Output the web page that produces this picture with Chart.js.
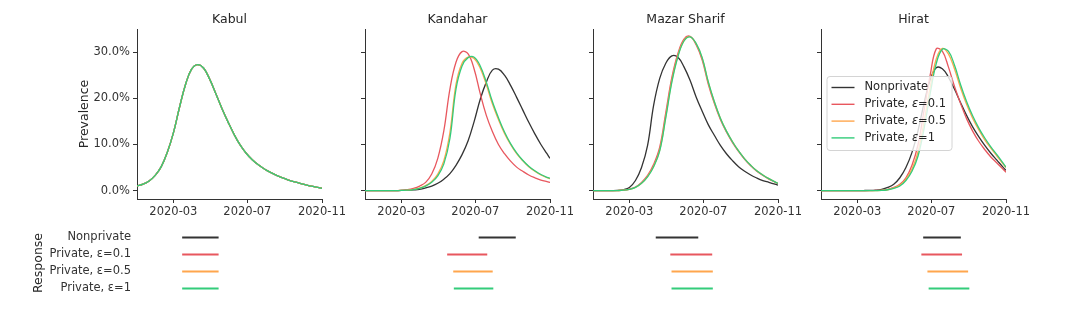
<!DOCTYPE html>
<html lang="en">
<head>
<meta charset="UTF-8">
<title>Prevalence and response by city</title>
<script src="https://cdn.jsdelivr.net/npm/chart.js"></script>
<style>
  body { margin: 0; background: #fff; }
  #wrap { position: relative; width: 1072px; height: 314px; overflow: hidden; }
  canvas { position: absolute; }
</style>
</head>
<body>
<div id="wrap"></div>
<script>
const cities = ['Kabul', 'Kandahar', 'Mazar Sharif', 'Hirat'];
const responses = ['Nonprivate', 'Private, ε=0.1', 'Private, ε=0.5', 'Private, ε=1'];
const colors = ['#333333', '#e8575e', '#ffa64d', '#33cc7a'];

const dates = ['2020-01-01','2020-01-11','2020-01-21','2020-01-31','2020-02-10','2020-02-20',
  '2020-03-01','2020-03-11','2020-03-21','2020-03-31','2020-04-10','2020-04-20','2020-04-30',
  '2020-05-10','2020-05-20','2020-05-30','2020-06-09','2020-06-19','2020-06-29','2020-07-09',
  '2020-07-19','2020-07-29','2020-08-08','2020-08-18','2020-08-28','2020-09-07','2020-09-17',
  '2020-09-27','2020-10-07','2020-10-17','2020-10-27','2020-11-01'];
const xTickDates = ['2020-03-01', '2020-07-01', '2020-11-01'];
const xTickLabels = ['2020-03', '2020-07', '2020-11'];
const yTicks = [0, 10, 20, 30];

// prevalence in %, one value per date
const kabul = [1.0,1.4,2.1,3.3,5.2,8.3,12.5,18.0,23.0,26.3,27.3,26.5,24.1,21.0,17.8,14.9,
  12.2,9.9,8.1,6.7,5.6,4.7,3.95,3.3,2.75,2.3,1.9,1.55,1.22,0.92,0.64,0.52];

const kandaharNonprivate = [0,0,0,0,0,0.02,0.05,0.1,0.18,0.3,0.6,1.0,1.6,2.5,3.7,5.5,
  7.8,10.8,15.0,19.8,23.5,26.1,26.3,25.0,22.8,20.2,17.5,14.8,12.3,10.0,8.0,7.0];
const kandaharEps01 = [0,0,0,0,0,0.02,0.05,0.2,0.5,1.0,1.8,3.6,7.0,13.0,22.0,27.8,
  30.1,29.6,26.3,21.0,16.3,12.8,10.0,8.0,6.4,5.1,4.2,3.4,2.8,2.3,1.95,1.8];
const kandaharEps05 = [0,0,0,0,0,0.02,0.05,0.12,0.28,0.55,1.1,2.0,3.6,6.5,12.6,23.0,
  27.6,28.9,28.6,26.5,23.0,18.8,15.4,12.4,10.0,8.0,6.5,5.2,4.2,3.4,2.8,2.6];
const kandaharEps1 = [0,0,0,0,0,0.02,0.05,0.1,0.25,0.5,1.0,1.8,3.2,5.8,11.3,22.0,
  27.0,28.8,28.9,27.0,23.5,19.3,15.8,12.7,10.2,8.2,6.6,5.3,4.3,3.5,2.9,2.7];

const mazarNonprivate = [0,0,0,0.02,0.05,0.2,0.7,2.2,5.0,9.8,18.5,24.3,27.6,29.2,28.9,26.8,
  23.9,20.3,17.2,14.3,12.0,9.8,8.0,6.5,5.2,4.2,3.4,2.75,2.2,1.8,1.4,1.2];
const mazarEps01 = [0,0,0,0,0.03,0.1,0.35,0.8,1.8,3.3,5.7,9.4,16.9,24.5,29.7,32.8,
  33.4,31.6,28.3,23.1,18.9,15.4,12.7,10.4,8.5,6.8,5.4,4.2,3.3,2.5,1.85,1.55];
const mazarEps05 = [0,0,0,0,0.03,0.1,0.3,0.7,1.6,3.1,5.3,8.8,16.1,23.8,29.2,32.5,
  33.3,31.8,28.7,23.5,19.2,15.7,12.9,10.6,8.6,6.9,5.5,4.3,3.4,2.6,1.9,1.6];
const mazarEps1 = [0,0,0,0,0.03,0.1,0.3,0.7,1.6,3.0,5.2,8.6,15.8,23.5,29.0,32.4,
  33.3,31.9,28.8,23.6,19.3,15.7,12.9,10.6,8.6,6.9,5.5,4.3,3.4,2.6,1.9,1.6];

const hiratNonprivate = [0,0,0,0,0,0,0.01,0.03,0.06,0.12,0.3,0.7,1.4,2.8,5.0,8.3,
  13.0,19.0,24.0,26.6,26.4,24.6,22.0,19.1,16.3,13.8,11.7,9.8,8.1,6.6,5.1,4.4];
const hiratEps01 = [0,0,0,0,0,0,0,0.01,0.02,0.05,0.1,0.3,0.7,1.4,2.8,5.5,
  10.0,17.5,25.0,30.7,30.2,26.8,22.6,18.9,15.6,12.9,10.7,8.9,7.3,6.0,4.7,4.0];
const hiratEps05 = [0,0,0,0,0,0,0,0,0.01,0.02,0.05,0.2,0.6,1.2,2.5,4.7,
  8.4,15.0,22.4,28.5,30.8,29.6,26.4,22.3,18.7,15.7,13.2,11.0,9.2,7.5,5.8,5.0];
const hiratEps1 = [0,0,0,0,0,0,0,0,0.01,0.02,0.05,0.2,0.5,1.0,2.2,4.2,
  7.5,13.5,21.0,27.5,30.6,30.2,27.2,23.0,19.3,16.2,13.6,11.4,9.5,7.8,6.0,5.1];

// response periods [start, end]
const kabulResponse = [['2020-03-16','2020-05-14'],['2020-03-16','2020-05-14'],
  ['2020-03-16','2020-05-14'],['2020-03-16','2020-05-14']];
const kandaharResponse = [['2020-07-07','2020-09-05'],['2020-05-16','2020-07-20'],
  ['2020-05-26','2020-07-29'],['2020-05-27','2020-07-30']];
const mazarResponse = [['2020-04-14','2020-06-22'],['2020-05-08','2020-07-15'],
  ['2020-05-10','2020-07-16'],['2020-05-10','2020-07-16']];
const hiratResponse = [['2020-06-18','2020-08-18'],['2020-06-15','2020-08-20'],
  ['2020-06-25','2020-08-30'],['2020-06-27','2020-09-01']];

const prevalence = [
  [kabul, kabul, kabul, kabul],
  [kandaharNonprivate, kandaharEps01, kandaharEps05, kandaharEps1],
  [mazarNonprivate, mazarEps01, mazarEps05, mazarEps1],
  [hiratNonprivate, hiratEps01, hiratEps05, hiratEps1]
];
const responsePeriods = [kabulResponse, kandaharResponse, mazarResponse, hiratResponse];

const day = s => (Date.parse(s) - Date.parse('2020-01-01')) / 864e5;
const spines = [137, 365, 593, 821];
const plotW = 185;

Chart.defaults.font.family = '"DejaVu Sans", sans-serif';
Chart.defaults.color = '#333';

const wrap = document.getElementById('wrap');
function addCanvas(left, top, w, h) {
  const c = document.createElement('canvas');
  c.width = w; c.height = h;
  c.style.left = left + 'px'; c.style.top = top + 'px';
  c.style.width = w + 'px'; c.style.height = h + 'px';
  wrap.appendChild(c);
  return c;
}

// city name above each panel
const panelTitle = {
  id: 'panelTitle',
  afterDraw(chart, args, opts) {
    const { ctx, chartArea } = chart;
    ctx.save();
    ctx.font = '12.5px "DejaVu Sans"';
    ctx.fillStyle = '#262626';
    ctx.textAlign = 'center';
    ctx.textBaseline = 'middle';
    ctx.fillText(opts.text, (chartArea.left + chartArea.right) / 2, 20);
    ctx.restore();
  }
};

// legend box inside the last panel, epsilon set in italic
const cornerLegend = {
  id: 'cornerLegend',
  afterDraw(chart, args, opts) {
    if (!opts.show) return;
    const { ctx, chartArea } = chart;
    const x0 = chartArea.left + 5.5, y0 = 76, w = 125, h = 74;
    const upright = '11.5px "DejaVu Sans"', italic = 'italic 11.5px "DejaVu Sans"';
    ctx.save();
    ctx.beginPath();
    ctx.roundRect(x0 + 0.5, y0 + 0.5, w, h, 3);
    ctx.fillStyle = 'rgba(255,255,255,0.8)';
    ctx.fill();
    ctx.strokeStyle = '#d4d4d4';
    ctx.lineWidth = 1;
    ctx.stroke();
    ctx.textBaseline = 'middle';
    chart.data.datasets.forEach((ds, k) => {
      const y = y0 + 11.5 + k * 16.8;
      ctx.beginPath();
      ctx.moveTo(x0 + 5, y);
      ctx.lineTo(x0 + 28, y);
      ctx.strokeStyle = ds.borderColor;
      ctx.lineWidth = 1.4;
      ctx.stroke();
      ctx.fillStyle = '#262626';
      let x = x0 + 38;
      ds.label.split(/(ε)/).forEach(part => {
        ctx.font = part === 'ε' ? italic : upright;
        ctx.fillText(part, x, y);
        x += ctx.measureText(part).width;
      });
    });
    ctx.restore();
  }
};

cities.forEach((city, i) => {
  const yW = i === 0 ? 67 : 8;
  const cv = addCanvas(spines[i] - yW, 0, yW + plotW + 32, 220);
  new Chart(cv, {
    type: 'line',
    data: {
      datasets: responses.map((r, k) => ({
        label: r,
        data: dates.map((d, j) => ({ x: day(d), y: prevalence[i][k][j] })),
        borderColor: colors[k],
        borderWidth: 1.3,
        pointRadius: 0,
        fill: false,
        tension: 0.4,
        order: 4 - k
      }))
    },
    options: {
      responsive: false,
      animation: false,
      events: [],
      layout: { padding: { top: 29, right: 32, bottom: 0, left: 0 } },
      plugins: {
        legend: { display: false },
        tooltip: { enabled: false },
        panelTitle: { text: city },
        cornerLegend: { show: i === 3 }
      },
      scales: {
        x: {
          type: 'linear', min: 0, max: 305,
          afterBuildTicks: s => { s.ticks = xTickDates.map(d => ({ value: day(d) })); },
          afterFit: s => { s.height = 21; },
          ticks: {
            callback: (v, idx) => xTickLabels[idx],
            font: { size: 11.5 }, color: '#333', padding: 2,
            maxRotation: 0, autoSkip: false
          },
          grid: { drawOnChartArea: false, drawTicks: true, tickLength: 4, color: '#333' },
          border: { color: '#333', width: 1 }
        },
        y: {
          min: -1.8, max: 35,
          afterBuildTicks: s => { s.ticks = yTicks.map(v => ({ value: v })); },
          afterFit: s => { s.width = yW; },
          ticks: {
            display: i === 0,
            callback: v => v.toFixed(1) + '%',
            font: { size: 11.5 }, color: '#333', padding: 3
          },
          grid: { drawOnChartArea: false, drawTicks: true, tickLength: 4, color: '#333' },
          border: { color: '#333', width: 1 },
          title: {
            display: i === 0, text: 'Prevalence', color: '#262626',
            font: { size: 12.5 }, padding: { top: 7, bottom: 0 }
          }
        }
      }
    },
    plugins: [panelTitle, cornerLegend]
  });

  // response periods below
  const rW = i === 0 ? 111 : 0;
  const rc = addCanvas(spines[i] - rW, 214, rW + plotW, 100);
  new Chart(rc, {
    type: 'bar',
    data: {
      labels: responses,
      datasets: [{
        data: responsePeriods[i].map(p => [day(p[0]), day(p[1])]),
        backgroundColor: colors,
        barThickness: 1.5,
        borderWidth: 0
      }]
    },
    options: {
      indexAxis: 'y',
      responsive: false,
      animation: false,
      events: [],
      layout: { padding: { top: 15, bottom: 17, left: 0, right: 0 } },
      plugins: { legend: { display: false }, tooltip: { enabled: false } },
      scales: {
        x: { type: 'linear', min: 0, max: 305, display: false },
        y: {
          display: i === 0,
          afterFit: s => { s.width = rW; },
          grid: { display: false, drawTicks: false },
          border: { display: false },
          ticks: { padding: 6, font: { size: 11.5 }, color: '#333' },
          title: {
            display: true, text: 'Response', color: '#262626',
            font: { size: 12.5 }, padding: { top: 5, bottom: 0 }
          }
        }
      }
    }
  });
});
</script>
</body>
</html>
